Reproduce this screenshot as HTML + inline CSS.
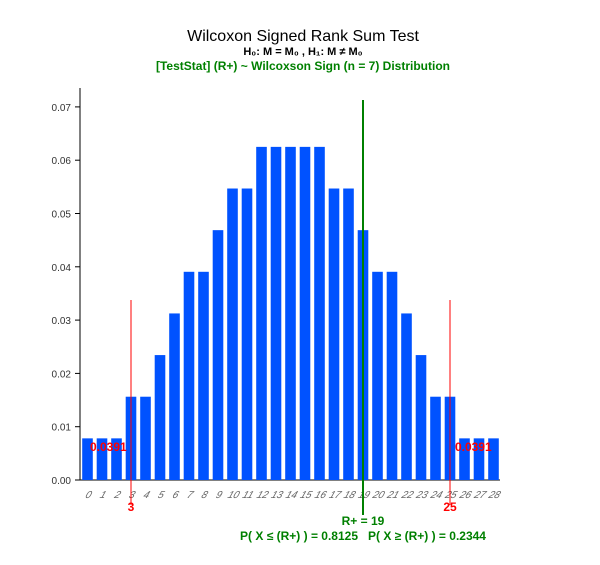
<!DOCTYPE html>
<html><head><meta charset="utf-8"><style>
body{margin:0;background:#fff;font-family:"Liberation Sans","Noto Sans CJK KR",sans-serif}
</style></head><body>
<svg id="c" width="600" height="560" xmlns="http://www.w3.org/2000/svg">
<text x="303" y="41" text-anchor="middle" font-size="16" fill="#000">Wilcoxon Signed Rank Sum Test</text>
<text x="303" y="55" text-anchor="middle" font-size="11" font-weight="bold" fill="#000">H₀: M = M₀ , H₁: M ≠ M₀</text>
<text x="303" y="70" text-anchor="middle" font-size="12" font-weight="bold" fill="#008000">[TestStat] (R+) ~ Wilcoxson Sign (n = 7) Distribution</text>
<g id="g"></g>
</svg>
<script>
const categories=[0,1,2,3,4,5,6,7,8,9,10,11,12,13,14,15,16,17,18,19,20,21,22,23,24,25,26,27,28];
const counts=[1,1,1,2,2,3,4,5,5,6,7,7,8,8,8,8,8,7,7,6,5,5,4,3,2,2,1,1,1];
const probs=counts.map(c=>c/128);
const yTicks=[0,0.01,0.02,0.03,0.04,0.05,0.06,0.07];
const critLow=3, critHigh=25, stat=19;
const leftLabel="0.0391", rightLabel="0.0391";
const NS="http://www.w3.org/2000/svg";
const g=document.getElementById('g');
const X=v=>87.5+v*14.5;
const Y=v=>480-v*5330;
function mk(t,a,txt){const e=document.createElementNS(NS,t);for(const k in a)e.setAttribute(k,a[k]);if(txt!==undefined)e.textContent=txt;g.appendChild(e);return e;}
let e;
e=mk('line',{x1:80,y1:88,x2:80,y2:480,stroke:'#000'});


e=mk('line',{x1:80,y1:480,x2:500,y2:480,stroke:'#000'});


yTicks.forEach(t=>{
 mk('line',{x1:75,x2:80,y1:Y(t),y2:Y(t),stroke:'#000'});
 e=mk('text',{x:71,y:Y(t)+4,'text-anchor':'end','font-size':10,fill:'#333'},t.toFixed(2));
 
 
});
categories.forEach((c,i)=>{
 e=mk('rect',{x:X(c)-5.3,y:Y(probs[i]),width:10.6,height:480-Y(probs[i]),fill:'#0052ff'});
 
 
 e=mk('text',{x:0,y:0,'font-size':10,'font-style':'italic',fill:'#666','text-anchor':'middle',transform:`translate(${X(c)},${498}) skewX(-20)`},c);
 
 
});
[[critLow,leftLabel,90],[critHigh,rightLabel,455]].forEach(([v,l,lx])=>{
 e=mk('line',{x1:X(v),x2:X(v),y1:300,y2:505,stroke:'#ff0000'});
 
 
 e=mk('text',{x:X(v),y:511,'text-anchor':'middle','font-size':12,'font-weight':'bold',fill:'#ff0000'},v);
 
 
 e=mk('text',{x:lx,y:451,'font-size':12,'font-weight':'bold',fill:'#ff0000'},l);
 
 
});
e=mk('line',{x1:X(stat),x2:X(stat),y1:100,y2:515,stroke:'#008000','stroke-width':2});


e=mk('text',{x:X(stat),y:525,'text-anchor':'middle','font-size':12,'font-weight':'bold',fill:'#008000'},'R+ = '+stat);


e=mk('text',{x:X(stat),y:540,'text-anchor':'middle','font-size':12,'font-weight':'bold',fill:'#008000','xml:space':'preserve'},'P( X ≤ (R+) ) = 0.8125\u00a0\u00a0\u00a0P( X ≥ (R+) ) = 0.2344');


</script>
</body></html>
